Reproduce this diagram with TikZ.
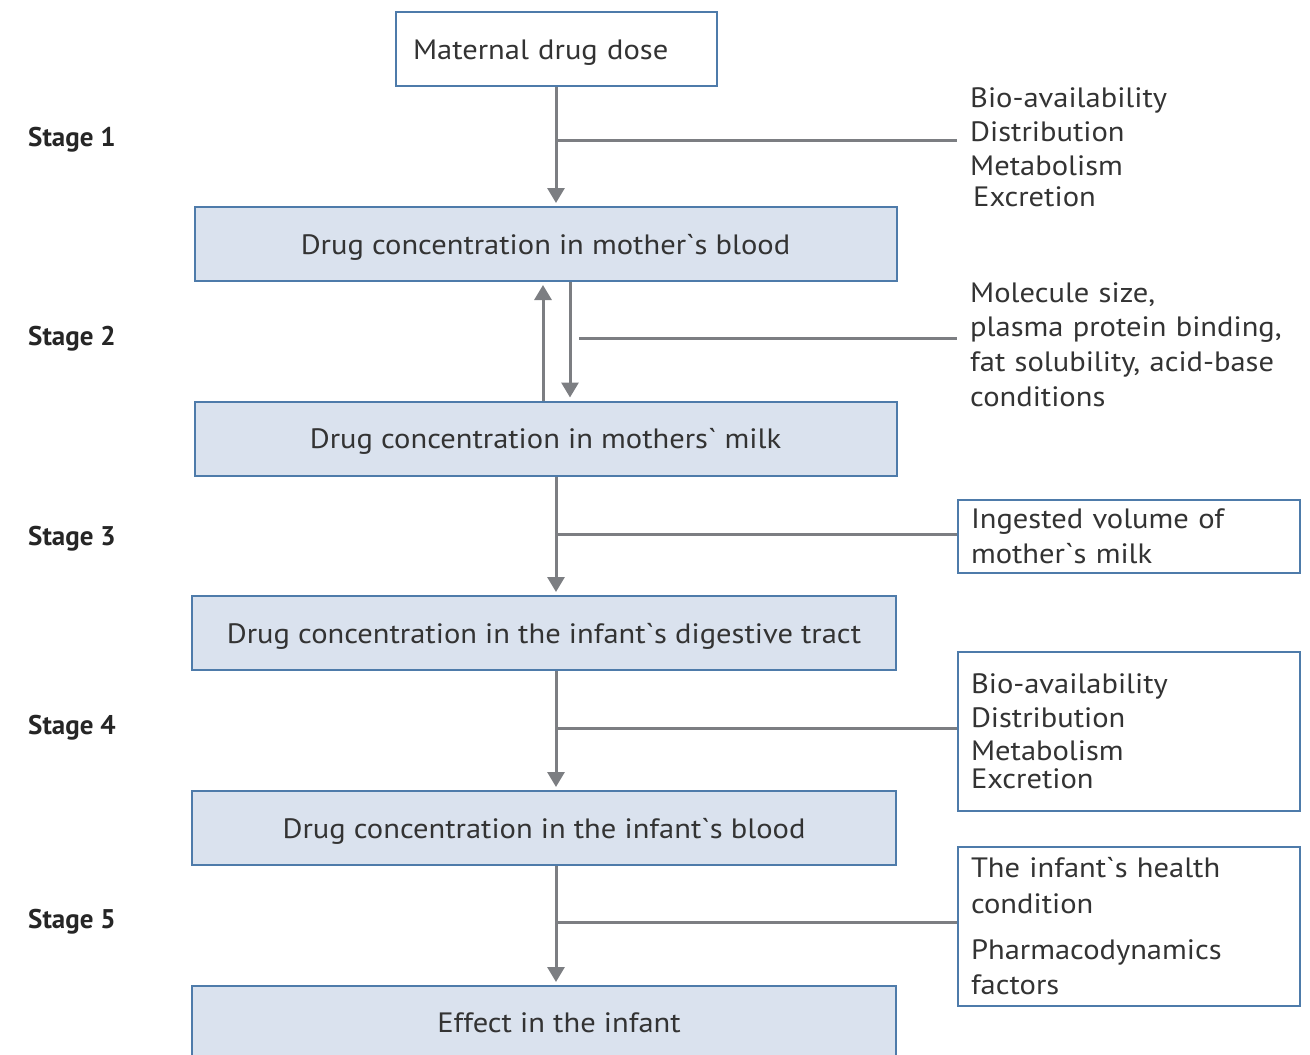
\documentclass[tikz,border=0pt]{standalone}
\usepackage{fontspec}
\newfontfamily\dfont{PT Sans}[FakeStretch=1.09]
\newfontfamily\sfont{PT Sans}
\usetikzlibrary{arrows.meta}
\definecolor{bordblue}{HTML}{4E7BAA}
\definecolor{boxfill}{HTML}{DAE2EE}
\definecolor{linegray}{HTML}{7C7E82}
\definecolor{txt}{HTML}{333333}
\tikzset{
  every node/.style={text=txt, font=\dfont\fontsize{28}{34}\selectfont},
  mainbox/.style={draw=bordblue, line width=2pt, fill=boxfill, minimum width=702pt, minimum height=74pt, inner sep=0pt},
  lowtext/.style={text height=20pt, text depth=0pt},
  sidebox/.style={draw=bordblue, line width=2pt, fill=white, anchor=north west, minimum width=342pt, text width=316pt, inner xsep=13pt, inner ysep=0pt, align=left},
  sidetext/.style={anchor=west, text width=330pt, inner xsep=13pt, inner ysep=0pt, align=left},
  stagelbl/.style={anchor=west, font=\sfont\bfseries\fontsize{27}{34}\selectfont, text=black!85, inner sep=0pt},
  conn/.style={draw=linegray, line width=3pt},
  arr/.style={conn, -{Triangle[width=17pt,length=15pt]}, shorten >=3pt},
}
\begin{document}
\begin{tikzpicture}[x=1pt,y=-1pt]
\useasboundingbox (0,0) rectangle (1310,1055);
% main column
\node[draw=bordblue, line width=2pt, fill=white, minimum width=321pt, minimum height=74pt, text width=287pt, inner xsep=17pt, inner ysep=0pt, align=left, lowtext] (m) at (556.5,49) {Maternal drug dose};
\node[mainbox, lowtext] (b1) at (545.5,244) {Drug concentration in mother`s blood};
\node[mainbox, lowtext] (b2) at (545.5,438.5) {Drug concentration in mothers` milk};
\node[mainbox, lowtext, minimum width=704pt] (b3) at (544,633) {Drug concentration in the infant`s digestive tract};
\node[mainbox, lowtext, minimum width=704pt] (b4) at (544,828) {Drug concentration in the infant`s blood};
\node[mainbox, minimum width=704pt] (b5) at (544,1023) {\hspace*{30pt}Effect in the infant};
% axis coordinates
\coordinate (ax) at (556,0);
\coordinate (up) at (543,0);
\coordinate (dn) at (570,0);
% stage labels
\node[stagelbl] (s1) at (28,140) {Stage 1};
\node[stagelbl] (s2) at (28,339) {Stage 2};
\node[stagelbl] (s3) at (28,539) {Stage 3};
\node[stagelbl] (s4) at (28,728) {Stage 4};
\node[stagelbl] (s5) at (28,922) {Stage 5};
% side texts
\node[sidetext] (t1) at (957,147) {Bio-availability\\Distribution\\Metabolism\\[-3pt]\hspace*{3pt}Excretion};
\node[sidetext] (t2) at (957,345) {Molecule size,\\plasma protein binding,\\[1pt]fat solubility, acid-base\\[1pt]conditions};
\node[sidebox, minimum height=73pt] (t3) at (957,499) {Ingested volume of\\[1pt]mother`s milk};
\node[sidebox, minimum height=159pt] (t4) at (957,651) {Bio-availability\\Distribution\\[-1pt]Metabolism\\[-6pt]Excretion};
\node[sidebox, minimum height=159pt] (t5) at (957,846) {The infant`s health\\[2pt]condition\\[12pt]Pharmacodynamics\\[1pt]factors};
% branch points
\coordinate (c1) at (556,140);
\coordinate (c2) at (579,338);
\coordinate (c3) at (556,534);
\coordinate (c4) at (556,728);
\coordinate (c5) at (556,922);
% connectors
\draw[arr] (m.south -| ax) -- (b1.north -| ax);
\draw[arr] (b2.north -| up) -- (b1.south -| up);
\draw[arr] (b1.south -| dn) -- (b2.north -| dn);
\draw[arr] (b2.south -| ax) -- (b3.north -| ax);
\draw[arr] (b3.south -| ax) -- (b4.north -| ax);
\draw[arr] (b4.south -| ax) -- (b5.north -| ax);
\draw[conn] (c1) -- (c1 -| t1.west);
\draw[conn] (c2) -- (c2 -| t2.west);
\draw[conn] (c3) -- (c3 -| t3.west);
\draw[conn] (c4) -- (c4 -| t4.west);
\draw[conn] (c5) -- (c5 -| t5.west);
\end{tikzpicture}
\end{document}
